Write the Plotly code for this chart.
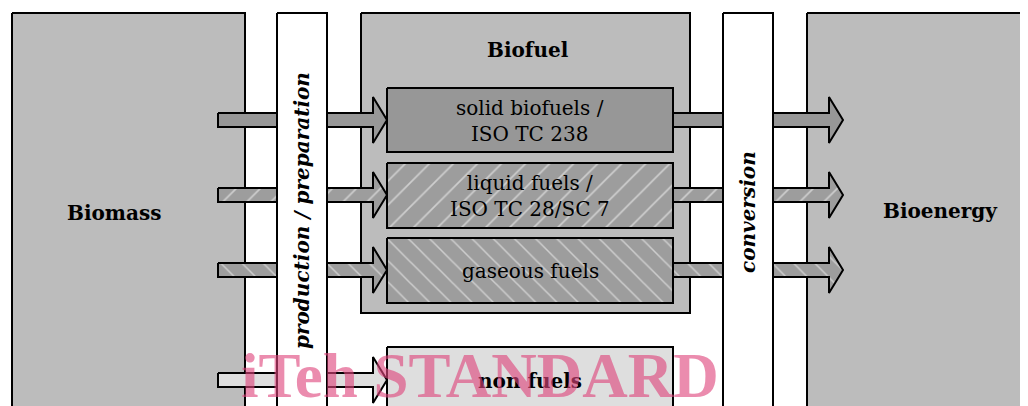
import plotly.graph_objects as go

# ---- content ----
outer_labels = ["Biomass", "Biofuel", "Bioenergy"]
process_labels = ["production / preparation", "conversion"]
fuel_labels = ["solid biofuels /<br>ISO TC 238", "liquid fuels /<br>ISO TC 28/SC 7", "gaseous fuels", "non fuels"]
fuel_bold = [False, False, False, True]
fuel_fill = ["#979797", "#9d9d9d", "#9d9d9d", "#dedede"]
fuel_hatch = ["", "/", "\\", ""]
watermark = "iTeh STANDARD"

# ---- geometry (pixel layout) ----
W, H = 1028, 406
OFF = 8  # page body margin compensation
BOT = 430
outer_boxes = [(12, 245, 13, BOT), (361, 690, 13, 313), (807, 1060, 13, BOT)]
outer_text_pos = [(114, 213), (528, 50), (940, 211)]
bars = [(277, 327), (723, 773)]
bar_text_x = [302, 748]
bar_text_y = [211, 212]
fuel_boxes = [(387, 673, 88, 152), (387, 673, 163, 228), (387, 673, 238, 303), (387, 673, 347, BOT)]
row_y = [120, 195, 270, 380]
right_arrow_rows = [0, 1, 2]

GREY = "#bcbcbc"
fig = go.Figure()


def poly(xs, ys, fill, hatch="", width=2):
    kw = {}
    if hatch:
        kw["fillpattern"] = dict(shape=hatch, fgcolor="white", bgcolor=fill,
                                 size=17 if hatch == "/" else 15, solidity=0.1)
    fig.add_trace(go.Scatter(x=list(xs) + [xs[0]], y=list(ys) + [ys[0]], mode="lines",
                             fill="toself", fillcolor=fill, line=dict(color="black", width=width),
                             hoverinfo="skip", showlegend=False, **kw))


def rect(x0, x1, y0, y1, fill, hatch=""):
    poly([x0, x1, x1, x0], [y0, y0, y1, y1], fill, hatch)


def arrow(x0, tip, yc, fill, hatch=""):
    hb = tip - 14
    s, h = 7, 23
    poly([x0, hb, hb, tip, hb, hb, x0],
         [yc - s, yc - s, yc - h, yc, yc + h, yc + s, yc + s], fill, hatch)


for (x0, x1, y0, y1) in outer_boxes:
    rect(x0, x1, y0, y1, GREY)

for i, yc in enumerate(row_y):
    arrow(218, 387, yc, fuel_fill[i], fuel_hatch[i])
for i in right_arrow_rows:
    arrow(673, 843, row_y[i], fuel_fill[i], fuel_hatch[i])

for i, (x0, x1, y0, y1) in enumerate(fuel_boxes):
    rect(x0, x1, y0, y1, fuel_fill[i], fuel_hatch[i])

for (x0, x1) in bars:
    rect(x0, x1, 13, BOT, "white")

SERIF = "DejaVu Serif"
ann = []
for lab, (x, y) in zip(outer_labels, outer_text_pos):
    ann.append(dict(x=x, y=y, text="<b>%s</b>" % lab, showarrow=False,
                    font=dict(family=SERIF, size=20, color="black")))
for lab, x, y in zip(process_labels, bar_text_x, bar_text_y):
    ann.append(dict(x=x, y=y, text="<b><i>%s</i></b>" % lab, showarrow=False, textangle=-90,
                    font=dict(family=SERIF, size=20, color="black")))
for lab, b, (x0, x1, y0, y1), yc in zip(fuel_labels, fuel_bold, fuel_boxes, row_y):
    t = "<b>%s</b>" % lab if b else lab
    ann.append(dict(x=(x0 + x1) / 2, y=yc + 1, text=t, showarrow=False,
                    font=dict(family=SERIF, size=20, color="black")))
ann.append(dict(x=480, y=376, text="<b>%s</b>" % watermark, showarrow=False,
                font=dict(family="Liberation Serif", size=63, color="rgba(222,70,125,0.62)")))

fig.update_layout(width=W, height=H, margin=dict(l=0, r=0, t=0, b=0),
                  paper_bgcolor="white", plot_bgcolor="white", annotations=ann,
                  xaxis=dict(range=[OFF, W + OFF], visible=False, fixedrange=True),
                  yaxis=dict(range=[H + OFF, OFF], visible=False, fixedrange=True))
fig.write_html("out.html")
